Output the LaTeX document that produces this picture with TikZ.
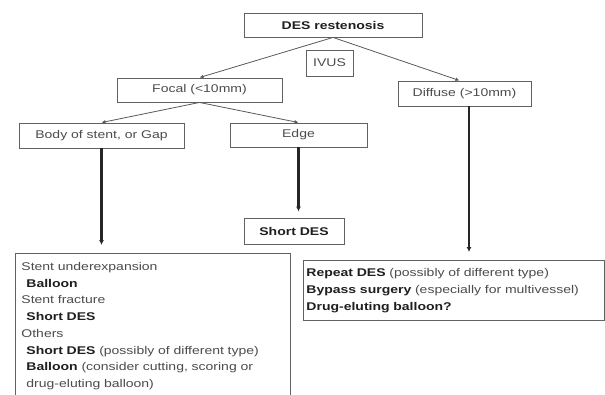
\documentclass[tikz,border=0pt]{standalone}
\usepackage{fontspec}
\setmainfont{Liberation Sans}[FakeStretch=1.25]
\usetikzlibrary{arrows.meta}
\colorlet{boxline}{black!62}
\colorlet{myink}{black!70}
\colorlet{mystrong}{black!88}
\newcommand{\treat}[1]{\textbf{\color{mystrong}#1}}

\begin{document}
\begin{tikzpicture}[
  x=1pt, y=1pt,
  font=\fontsize{11.2}{16.7}\selectfont,
  box/.style  ={draw=boxline, line width=0.9pt, fill=white, inner sep=0pt, text=myink},
  list/.style ={box, anchor=north west, align=left},
  split/.style={draw=black!65, line width=0.8pt, -{Latex[length=4pt,width=3.6pt]}},
  drop/.style ={draw=black!85, line width=2.2pt, -{Latex[length=5pt,width=5pt]}, shorten >=8pt},
]
\useasboundingbox (0,0) rectangle (605,-394);
\clip (0,0) rectangle (605,-394);

% ==================================================== top of the tree
\node[box, minimum width=178, minimum height=24] (des) at (333,-25) {\treat{DES restenosis}};
\node[box, minimum width=47, minimum height=26] (ivus) at (329.5,-63) {IVUS};

\node[box, minimum width=165, minimum height=24] (focal)   at (199.5,-90)  {Focal (<10mm)};
\node[box, minimum width=133, minimum height=25] (diffuse) at (464.5,-93.5) {Diffuse (>10mm)};

\node[box, minimum width=165, minimum height=25] (body) at (101.5,-135.5) {Body of stent, or Gap};
\node[box, minimum width=137, minimum height=24] (edge) at (298.5,-135)   {Edge};

\draw[split] (des.south) -- (focal.north);
\draw[split] (des.south) -- ([xshift=-5]diffuse.north);
\draw[split] (focal.south) -- (body.north);
\draw[split] (focal.south) -- (edge.north);

% ==================================================== what to do
\node[box, minimum width=100, minimum height=26] (shortdes) at (294,-231) {\treat{Short DES}};

% runs off the bottom of the page, as in the source figure
\node[list, inner xsep=6pt, inner ysep=9pt, text width=263] (others) at (15,-253)
  {Stent underexpansion\\
   \hspace*{5pt}\treat{Balloon}\\
   Stent fracture\\
   \hspace*{5pt}\treat{Short DES}\\
   Others\\
   \hspace*{5pt}\treat{Short DES} (possibly of different type)\\
   \hspace*{5pt}\treat{Balloon} (consider cutting, scoring or\\
   \hspace*{5pt}drug-eluting balloon)};

\node[list, inner xsep=3pt, inner ysep=0pt, text width=295, minimum height=60] (repeat) at (303,-260)
  {\treat{Repeat DES} (possibly of different type)\\
   \treat{Bypass surgery} (especially for multivessel)\\
   \treat{Drug-eluting balloon?}};

\draw[drop] (body.south) -- (body.south |- others.north);
\draw[drop, shorten >=6pt] (edge.south) -- (edge.south |- shortdes.north);
\draw[drop] ([xshift=4.5]diffuse.south) -- ([xshift=4.5]diffuse.south |- repeat.north);

\end{tikzpicture}
\end{document}
